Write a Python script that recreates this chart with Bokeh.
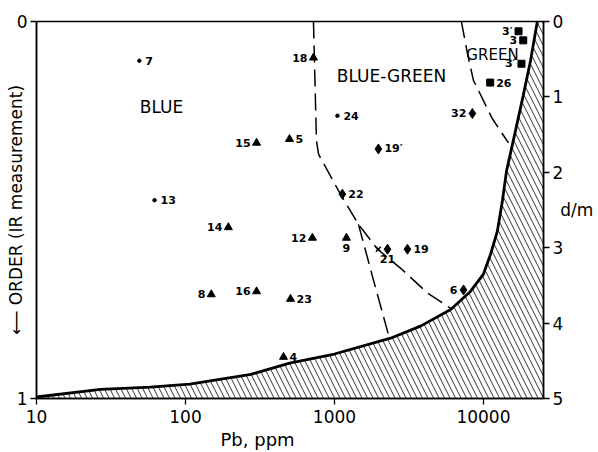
import math
from bokeh.plotting import figure
from bokeh.models import (Range1d, LinearAxis, FixedTicker, Title, ColumnDataSource)
from bokeh.core.properties import value
from bokeh.embed import file_html
from bokeh.resources import INLINE

# ---------------- data ----------------
# samples: Pb (ppm), d/m, marker kind, label
pt_name = ["7", "18", "15", "5", "24", "19′", "32", "3′", "3", "3′", "26", "22", "13",
           "14", "12", "9", "21", "19", "6", "8", "16", "23", "4"]
pt_pb = [49, 723, 300, 499, 1047, 1972, 8430, 17200, 18500, 18000, 11100, 1130, 62,
         194, 711, 1203, 2270, 3090, 7350, 149, 300, 507, 455]
pt_dm = [0.52, 0.48, 1.61, 1.56, 1.25, 1.69, 1.22, 0.13, 0.25, 0.56, 0.81, 2.29, 2.37,
         2.73, 2.87, 2.87, 3.02, 3.02, 3.56, 3.62, 3.58, 3.68, 4.45]
pt_kind = ["dot", "tri", "tri", "tri", "dot", "dia", "dia", "sq", "sq", "sq", "sq", "dia", "dot",
           "tri", "tri", "tri", "dia", "dia", "dia", "tri", "tri", "tri", "tri"]
pt_side = ["R", "L", "L", "R", "R", "R", "L", "L", "L", "L", "R", "R", "R",
           "L", "L", "B", "B", "R", "L", "L", "L", "R", "R"]

# extra cross symbol beside sample 21
cross_pb = [1972]
cross_dm = [3.02]

# solid boundary (limit curve), Pb ppm vs d/m
curve_pb = [10, 26.9, 58, 107, 275, 500, 1000, 2380, 3780, 6030, 8180, 10000, 11150,
            12400, 13400, 14300, 16400, 18500, 20700, 23000]
curve_dm = [4.98, 4.88, 4.85, 4.81, 4.68, 4.53, 4.41, 4.20, 4.04, 3.82, 3.58, 3.35, 3.09,
            2.78, 2.38, 1.98, 1.45, 0.98, 0.52, 0.0]

# dashed colour boundaries
bg_pb = [723, 757, 782, 1096, 1449, 1945, 2773, 4207, 6194]
bg_dm = [0.0, 1.58, 1.76, 2.29, 2.69, 3.02, 3.27, 3.60, 3.82]
br_pb = [1449, 1799, 2301]
br_dm = [2.69, 3.38, 4.15]
gr_pb = [7110, 7820, 8570, 10000, 11480, 14720]
gr_dm = [0.0, 0.43, 0.78, 1.05, 1.29, 1.61]

region_names = ["BLUE", "BLUE-GREEN", "GREEN"]
region_pb = [69, 2415, 11500]
region_dm = [1.14, 0.72, 0.45]
region_size = ["17px", "17px", "15px"]

x_ticks = [10, 100, 1000, 10000]
x_tick_labels = ["10", "100", "1000", "10000"]
dm_ticks = [0, 1, 2, 3, 4, 5]
order_ticks = [0, 1]
order_tick_labels = ["0", "1"]

X_MIN, X_MAX = 10, 25300
FONT = "DejaVu Sans"

# ---------------- figure ----------------
p = figure(width=598, height=452, x_axis_type="log",
           x_range=Range1d(X_MIN, X_MAX), y_range=Range1d(5, 0),
           y_axis_location="right", output_backend="svg", toolbar_location=None,
           min_border_left=36, min_border_right=55, min_border_top=21, min_border_bottom=54)
p.background_fill_color = "white"
p.border_fill_color = "white"
p.outline_line_color = "black"
p.outline_line_width = 1.5
p.grid.visible = False

# hatched forbidden region
poly_x = curve_pb + [X_MAX, X_MAX, X_MIN]
poly_y = curve_dm + [0.0, 5.0, 5.0]
p.patch(poly_x, poly_y, fill_color=None, line_color=None,
        hatch_pattern="\\", hatch_color="black", hatch_weight=0.8, hatch_scale=11)
p.line(curve_pb, curve_dm, line_color="black", line_width=2.8)

for xs, ys in [(bg_pb, bg_dm), (br_pb, br_dm), (gr_pb, gr_dm)]:
    p.line(xs, ys, line_color="black", line_width=1.5, line_dash="17 7")

# markers
kinds = {"dot": ("circle", 3.5), "tri": ("triangle", 8), "dia": ("diamond", 10), "sq": ("square", 7)}
for k, (mk, sz) in kinds.items():
    xs = [x for x, kk in zip(pt_pb, pt_kind) if kk == k]
    ys = [y for y, kk in zip(pt_dm, pt_kind) if kk == k]
    p.scatter(xs, ys, marker=mk, size=sz, fill_color="black", line_color="black")
p.scatter(cross_pb, cross_dm, marker="x", size=7, line_color="black", line_width=1.5)

# point labels
off = {"R": (6, 0, "left", "middle"), "L": (-6, 0, "right", "middle"), "B": (0, 6, "center", "top")}
src = ColumnDataSource(dict(
    x=pt_pb, y=pt_dm, t=pt_name,
    xo=[off[s][0] for s in pt_side], yo=[off[s][1] for s in pt_side],
    al=[off[s][2] for s in pt_side], bl=[off[s][3] for s in pt_side]))
p.text("x", "y", text="t", x_offset="xo", y_offset="yo", text_align="al", text_baseline="bl",
       source=src, text_font=value(FONT), text_font_size="11px", text_font_style="bold",
       text_color="black")

# region names
p.text(region_pb, region_dm, text=region_names, text_align="center", text_baseline="middle",
       text_font=value(FONT), text_font_size=region_size, text_color="black")

# axes
xa = p.xaxis[0]
xa.ticker = FixedTicker(ticks=x_ticks)
xa.major_label_overrides = {t: l for t, l in zip(x_ticks, x_tick_labels)}
xa.minor_tick_line_color = None

ra = p.yaxis[0]
ra.ticker = FixedTicker(ticks=dm_ticks)
ra.minor_tick_line_color = None
ra.axis_label = "d/m"
ra.axis_label_orientation = "horizontal"
ra.axis_label_standoff = -6

p.extra_y_ranges = {"order": Range1d(1, 0)}
la = LinearAxis(y_range_name="order", ticker=FixedTicker(ticks=order_ticks))
la.major_label_overrides = {t: l for t, l in zip(order_ticks, order_tick_labels)}
la.minor_tick_line_color = None
la.axis_label = "⟵ ORDER (IR measurement)"
la.axis_label_standoff = -12
p.add_layout(la, "left")

for ax in [xa, ra, la]:
    ax.axis_line_width = 1.5
    ax.axis_line_color = "black"
    ax.major_tick_line_color = "black"
    ax.major_tick_line_width = 1.3
    ax.major_tick_in = 0
    ax.major_tick_out = 6
    ax.major_label_text_font = FONT
    ax.major_label_text_font_size = "17px"
    ax.major_label_text_color = "black"
    ax.major_label_standoff = 3
    ax.axis_label_text_font = FONT
    ax.axis_label_text_font_size = "17px"
    ax.axis_label_text_font_style = "normal"
    ax.axis_label_text_color = "black"
xa.major_label_standoff = 5

# x-axis title, set off to the left as in the original lettering
xt = Title(text="Pb, ppm", align="left", offset=184, standoff=3,
           text_font=FONT, text_font_size="18px", text_font_style="normal", text_color="black")
p.add_layout(xt, "below")

open("out.html", "w").write(file_html(p, INLINE))
